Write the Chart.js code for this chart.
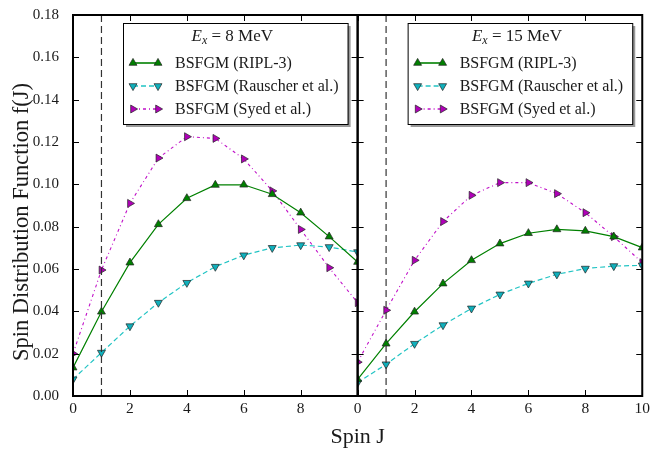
<!DOCTYPE html>
<html>
<head>
<meta charset="utf-8">
<script src="https://cdn.jsdelivr.net/npm/chart.js@4.4.0/dist/chart.umd.min.js"></script>
<style>
  html, body { margin: 0; padding: 0; background: #fff; }
  #wrap { width: 654px; height: 450px; }
</style>
</head>
<body>
<div id="wrap"><canvas id="spinChart" width="654" height="450"></canvas></div>
<script>
// spin values (same for both panels)
const spins = [0, 1, 2, 3, 4, 5, 6, 7, 8, 9, 10];

// Ex = 8 MeV
const ripl8      = [0.0134, 0.0398, 0.0630, 0.0811, 0.0934, 0.0997, 0.0998, 0.0953, 0.0866, 0.0753, 0.0633];
const rauscher8  = [0.0079, 0.0205, 0.0330, 0.0441, 0.0535, 0.0611, 0.0665, 0.0700, 0.0713, 0.0704, 0.0680];
const syed8      = [0.0200, 0.0595, 0.0910, 0.1124, 0.1225, 0.1217, 0.1120, 0.0969, 0.0787, 0.0606, 0.0441];

// Ex = 15 MeV
const ripl15     = [0.0079, 0.0247, 0.0398, 0.0531, 0.0641, 0.0720, 0.0769, 0.0787, 0.0780, 0.0753, 0.0701];
const rauscher15 = [0.0063, 0.0150, 0.0247, 0.0335, 0.0414, 0.0480, 0.0532, 0.0575, 0.0602, 0.0614, 0.0617];
const syed15     = [0.0160, 0.0405, 0.0641, 0.0824, 0.0948, 0.1008, 0.1008, 0.0956, 0.0866, 0.0753, 0.0630];

const panelTitles = ['8', '15'];
const seriesLabels = ['BSFGM (RIPL-3)', 'BSFGM (Rauscher et al.)', 'BSFGM (Syed et al.)'];
const markerJ = 1;
const yTicks = [0, 0.02, 0.04, 0.06, 0.08, 0.10, 0.12, 0.14, 0.16, 0.18];

const serif = '"Liberation Serif", "DejaVu Serif", serif';
const textColor = '#1a1a1a';

// estilos de cada serie
const styles = [
    { borderColor: '#008000', backgroundColor: '#008000', borderWidth: 1.2, borderDash: [],
      pointStyle: 'triangle', pointRotation: 0 },
    { borderColor: '#22c4c4', backgroundColor: '#10b0bc', borderWidth: 1.2, borderDash: [5, 3],
      pointStyle: 'triangle', pointRotation: 180 },
    { borderColor: '#c010c8', backgroundColor: '#b000b8', borderWidth: 1.1, borderDash: [3, 3, 1, 3],
      pointStyle: 'triangle', pointRotation: 90 }
];

function makeSeries(label, values, axis, style) {
    return {
        label: label,
        data: spins.map((j, i) => ({ x: j, y: values[i] })),
        xAxisID: axis,
        yAxisID: 'y',
        tension: 0,
        borderColor: style.borderColor,
        borderWidth: style.borderWidth,
        borderDash: style.borderDash,
        pointStyle: style.pointStyle,
        pointRotation: style.pointRotation,
        pointRadius: 4.6,
        pointBackgroundColor: style.backgroundColor,
        pointBorderColor: '#222',
        pointBorderWidth: 0.7
    };
}

function markerLine(axis) {
    return {
        label: 'J = ' + markerJ,
        data: [{ x: markerJ, y: 0 }, { x: markerJ, y: 0.18 }],
        xAxisID: axis,
        yAxisID: 'y',
        borderColor: '#333',
        borderWidth: 1.2,
        borderDash: [7, 4],
        pointRadius: 0
    };
}

const datasets = [
    markerLine('x1'),
    makeSeries(seriesLabels[0], ripl8, 'x1', styles[0]),
    makeSeries(seriesLabels[1], rauscher8, 'x1', styles[1]),
    makeSeries(seriesLabels[2], syed8, 'x1', styles[2]),
    markerLine('x2'),
    makeSeries(seriesLabels[0], ripl15, 'x2', styles[0]),
    makeSeries(seriesLabels[1], rauscher15, 'x2', styles[1]),
    makeSeries(seriesLabels[2], syed15, 'x2', styles[2])
];

// triángulo como el de Chart.js
function drawTriangle(ctx, x, y, r, rotDeg, fill) {
    ctx.save();
    ctx.translate(x, y);
    ctx.rotate(rotDeg * Math.PI / 180);
    ctx.beginPath();
    for (let k = 0; k < 3; k++) {
        const a = k * 2 * Math.PI / 3;
        const px = Math.sin(a) * r, py = -Math.cos(a) * r;
        if (k === 0) ctx.moveTo(px, py); else ctx.lineTo(px, py);
    }
    ctx.closePath();
    ctx.fillStyle = fill;
    ctx.fill();
    ctx.lineWidth = 0.7;
    ctx.strokeStyle = '#222';
    ctx.stroke();
    ctx.restore();
}

function drawLegend(ctx, panel, energy) {
    const bx = panel.left + 50, by = panel.top + 8;
    const bw = panel.right - panel.left - 60, bh = 101;
    ctx.save();
    ctx.fillStyle = '#999';
    ctx.fillRect(bx + 3, by + 3, bw, bh);
    ctx.fillStyle = '#fff';
    ctx.fillRect(bx, by, bw, bh);
    ctx.strokeStyle = '#000';
    ctx.lineWidth = 1;
    ctx.strokeRect(bx + 0.5, by + 0.5, bw, bh);

    // título E_x = .. MeV
    const big = 'italic 17px ' + serif, sub = 'italic 12px ' + serif, reg = '17px ' + serif;
    const rest = ' = ' + energy + ' MeV';
    ctx.font = big; const wE = ctx.measureText('E').width;
    ctx.font = sub; const wx = ctx.measureText('x').width;
    ctx.font = reg; const wr = ctx.measureText(rest).width;
    let tx = bx + bw / 2 - (wE + wx + wr) / 2 - 3;
    const ty = by + 18;
    ctx.fillStyle = textColor;
    ctx.textBaseline = 'alphabetic';
    ctx.textAlign = 'left';
    ctx.font = big; ctx.fillText('E', tx, ty); tx += wE;
    ctx.font = sub; ctx.fillText('x', tx, ty + 3); tx += wx;
    ctx.font = reg; ctx.fillText(rest, tx, ty);

    const rows = [by + 40, by + 63, by + 86];
    styles.forEach((st, i) => {
        const y = rows[i];
        const x0 = bx + 10, x1 = bx + 35;
        ctx.save();
        ctx.strokeStyle = st.borderColor;
        ctx.lineWidth = st.borderWidth + 0.4;
        ctx.setLineDash(st.borderDash);
        ctx.beginPath();
        ctx.moveTo(x0, y);
        ctx.lineTo(x1, y);
        ctx.stroke();
        ctx.restore();
        drawTriangle(ctx, x0, y, 4.6, st.pointRotation, st.backgroundColor);
        drawTriangle(ctx, x1, y, 4.6, st.pointRotation, st.backgroundColor);
        ctx.fillStyle = textColor;
        ctx.font = '16px ' + serif;
        ctx.textBaseline = 'middle';
        ctx.fillText(seriesLabels[i], bx + 52, y + 1);
    });
    ctx.restore();
}

const panelFrame = {
    id: 'panelFrame',
    afterDraw(chart) {
        const ctx = chart.ctx;
        const area = chart.chartArea;
        const yScale = chart.scales.y;
        ['x1', 'x2'].forEach((id, p) => {
            const xs = chart.scales[id];
            const panel = { left: xs.left, right: xs.right, top: area.top, bottom: area.bottom };
            ctx.save();
            ctx.strokeStyle = '#000';
            ctx.lineWidth = 1;
            // ticks hacia dentro en los cuatro lados
            xs.ticks.forEach(t => {
                const px = Math.round(xs.getPixelForValue(t.value)) + 0.5;
                ctx.beginPath();
                ctx.moveTo(px, panel.bottom); ctx.lineTo(px, panel.bottom - 6);
                ctx.moveTo(px, panel.top); ctx.lineTo(px, panel.top + 6);
                ctx.stroke();
            });
            yTicks.forEach(v => {
                const py = Math.round(yScale.getPixelForValue(v)) + 0.5;
                ctx.beginPath();
                ctx.moveTo(panel.left, py); ctx.lineTo(panel.left + 6, py);
                ctx.moveTo(panel.right, py); ctx.lineTo(panel.right - 6, py);
                ctx.stroke();
            });
            ctx.lineWidth = 2;
            ctx.strokeRect(panel.left, panel.top, panel.right - panel.left, panel.bottom - panel.top);
            ctx.restore();
            drawLegend(ctx, panel, panelTitles[p]);
        });
        // títulos de los ejes
        ctx.save();
        ctx.fillStyle = textColor;
        ctx.font = '22px ' + serif;
        ctx.textAlign = 'center';
        ctx.textBaseline = 'middle';
        ctx.fillText('Spin J', (area.left + area.right) / 2, 437);
        ctx.translate(22, 222);
        ctx.rotate(-Math.PI / 2);
        ctx.font = '22.5px ' + serif;
        ctx.fillText('Spin Distribution Function f(J)', 0, 0);
        ctx.restore();
    }
};

function xAxis(hideLast) {
    return {
        type: 'linear',
        position: 'bottom',
        stack: 'spin',
        stackWeight: 1,
        min: 0,
        max: 10,
        grid: { display: false, drawTicks: false },
        border: { display: false },
        ticks: {
            stepSize: 2,
            padding: 4,
            color: textColor,
            font: { family: serif, size: 15.5 },
            callback: v => (hideLast && v === 10) ? '' : String(v)
        },
        afterFit: s => { s.height = 54; }
    };
}

const ctx = document.getElementById('spinChart').getContext('2d');
const spinChart = new Chart(ctx, {
    type: 'line',
    data: { datasets: datasets },
    options: {
        responsive: false,
        animation: false,
        layout: { padding: { top: 15, right: 8, left: 0, bottom: 0 } },
        plugins: {
            legend: { display: false },
            tooltip: { enabled: false }
        },
        scales: {
            x1: xAxis(true),
            x2: xAxis(false),
            y: {
                type: 'linear',
                position: 'left',
                min: 0,
                max: 0.18,
                grid: { display: false, drawTicks: true, tickLength: 9 },
                border: { display: false },
                afterBuildTicks: s => { s.ticks = yTicks.map(v => ({ value: v })); },
                afterFit: s => { s.width = 73; },
                ticks: {
                    padding: 5,
                    color: textColor,
                    font: { family: serif, size: 15 },
                    callback: v => v.toFixed(2)
                }
            }
        }
    },
    plugins: [panelFrame]
});
</script>
</body>
</html>
